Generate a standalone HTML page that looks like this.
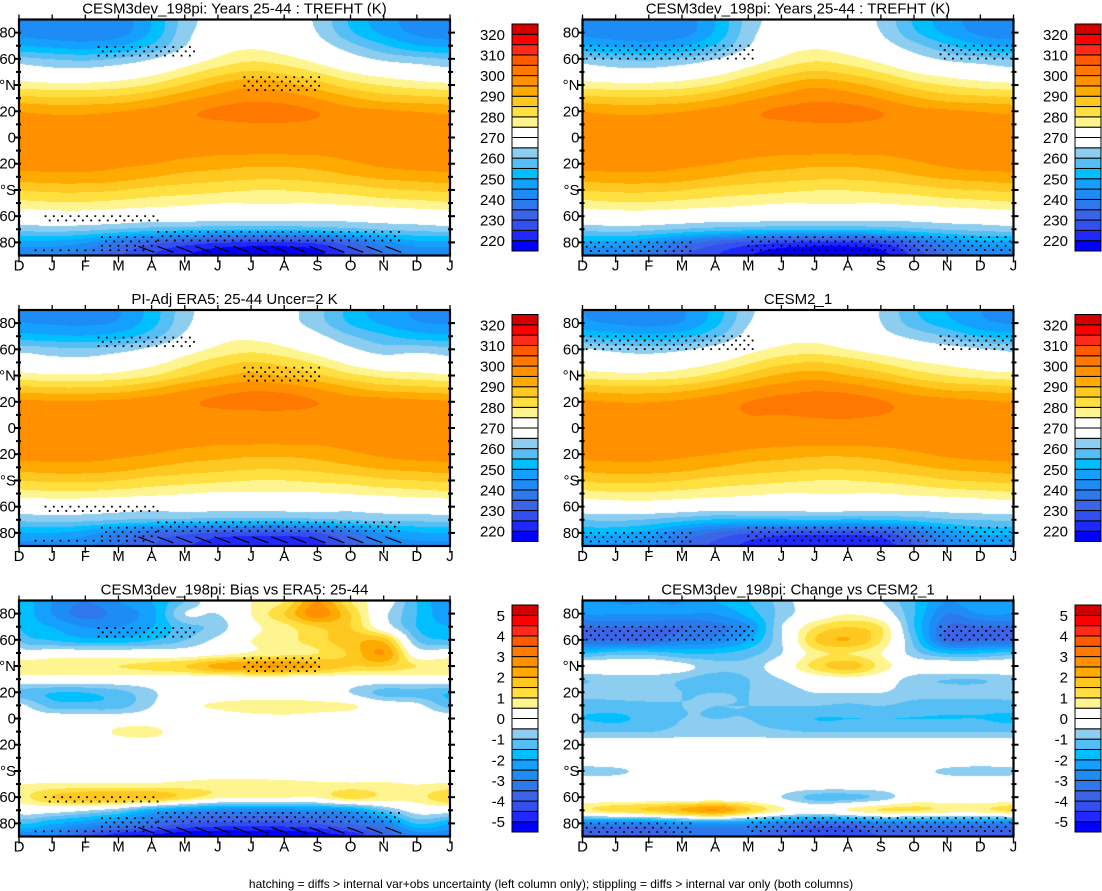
<!DOCTYPE html>
<html><head><meta charset="utf-8">
<style>
body{margin:0;background:#fff;width:1102px;height:891px;overflow:hidden;position:relative;font-family:"Liberation Sans",Arial,sans-serif}
canvas{position:absolute}
svg{position:absolute;left:0;top:0}
</style></head>
<body>
<canvas id="c0"></canvas>
<canvas id="c1"></canvas>
<canvas id="c2"></canvas>
<canvas id="c3"></canvas>
<canvas id="c4"></canvas>
<canvas id="c5"></canvas>
<svg id="ov" width="1102" height="891">
<text x="551" y="888" font-size="12" text-anchor="middle" font-family="Liberation Sans, sans-serif">hatching = diffs &gt; internal var+obs uncertainty (left column only); stippling = diffs &gt; internal var only (both columns)</text>
</svg>
<script>
// ---- data (rows: lat 90..-90 step 10; cols: D J F M A M J J A S O N) ----
const monthLabels = ['D','J','F','M','A','M','J','J','A','S','O','N','D','J'];
const latLabels = ['80','60','°N','20','0','20','°S','60','80'];
const latTickValues = [80,60,40,20,0,-20,-40,-60,-80];
const tempTickLabels = ['320','310','300','290','280','270','260','250','240','230','220'];
const diffTickLabels = ['5','4','3','2','1','0','-1','-2','-3','-4','-5'];
const modelT = [
[243,241,240,242,250,262,268,270,268,264,254,247],
[244,242,241,243,251,263,269,271,269,265,256,249],
[251,249,248,250,256,265,272,274,272,268,262,256],
[262,260,259,261,265,271,276,279,277,273,268,264],
[270,268,268,270,273,278,283,286,284,280,275,272],
[278,277,277,278,281,286,291,294,292,288,283,280],
[287,286,286,287,290,294,297,299,298,295,291,288],
[295,294,294,295,297,299,301,302,302,300,297,296],
[297,297,297,298,298,299,299,299.5,299.5,299,298,297],
[298,298,298,298,298,298,297,297,297,297,298,298],
[298,298,298,298,298,297,296,296,296,296,297,298],
[297,297,297,296,295,293,292,291,291,292,294,296],
[292,293,293,292,290,288,287,286,286,287,289,291],
[285,286,286,285,283,282,281,280,280,281,282,284],
[278,279,279,278,277,276,275,275,275,275,276,277],
[270,271,271,270,269,269,268,268,268,268,268,269],
[261,262,261,259,257,256,255,255,255,256,258,260],
[248,248,245,238,232,228,225,224,224,226,234,243],
[240,240,237,230,225,220,217,216,216,218,226,236]];
const biasERA5 = [
[-1.5,-2.5,-3,-2.5,-2,-1,0,0.5,1,2.5,1,0],
[-1.5,-2.5,-3.2,-2.8,-2.2,-0.5,-0.5,0.5,1.5,2.8,1.5,-0.3],
[-1.5,-2,-2.5,-2.5,-2,-1.2,-0.8,0.3,0.8,1.5,1.5,0],
[-1,-1.5,-1.8,-1.8,-1.5,-1,-0.3,0.5,0.8,1.3,1.8,1.8],
[0,0,0,0,0,0,0.3,0.6,0.8,1,1.6,2.5],
[1,1,1,1,1.2,1.5,2.2,2.5,2.5,2,1.5,1.5],
[0,0,0,0,0,0,0,0,0,0,0,0],
[-1.2,-1.5,-1.5,-1.2,-0.6,0,0,0,0,0,-0.5,-1.2],
[-0.3,-1.2,-1.3,-1.2,-0.5,0.3,0.6,0.8,0.8,0.7,0.6,0],
[0,0,0,0,0,0,0,0.2,0.3,0.2,0,0],
[0,0,0,0.6,0.7,0,0,0,0,0,0,0],
[0,0,0,0,0,0,0,0,0,0,0,0],
[0,0,0,0,0,0,0,0,0,0,0,0],
[0,0,0,0,0,0,0,0,0,0,0,0],
[0.5,0.6,0.6,0.6,0.6,0.7,0.8,0.8,0.7,0.6,0.6,0.6],
[0.8,1.5,1.9,1.9,1.8,1.2,0.6,0.6,0.5,0.5,1.2,0.8],
[-0.2,-0.2,-0.5,-1,-2,-2.5,-2.8,-2.8,-2.8,-2.6,-2.4,-1.2],
[-1.5,-2,-2.5,-3,-3.5,-4,-4.2,-4.2,-4.2,-4,-3.5,-3],
[-3,-3,-4,-5,-5.2,-5.5,-5.6,-5.6,-5.6,-5.4,-5,-4]];
const changeCESM2 = [
[-2,-2.5,-2.5,-2.5,-2,-1.5,-0.8,0,0,-0.5,-1.5,-2.5],
[-2.5,-2.5,-2.5,-2.5,-2.5,-1.8,-0.8,0,0.5,0,-1.5,-3],
[-3.5,-3.5,-3.5,-3.5,-3.2,-2.5,-0.5,1,1.5,1,-1.5,-3.5],
[-3.5,-3.5,-3.5,-3,-2.8,-2,-0.5,1.5,2,1,-1.2,-3.5],
[-1.5,-1.2,-1.2,-1.5,-1.5,-1.2,-0.5,0.8,1,0.5,-0.8,-1.5],
[0,0,0,-0.3,-0.8,-0.8,0,1.2,1.8,0.8,0,0],
[-1,-0.8,-0.8,-1,-1.3,-1,-0.5,0,0.2,0,-0.8,-1],
[-0.8,-0.8,-0.8,-1,-1,-1,-0.8,-0.5,-0.5,-0.5,-0.8,-0.8],
[-1.3,-1.2,-1.1,-1,-1,-1,-1,-1,-1.1,-1,-1.2,-1.3],
[-1.5,-1.6,-1.3,-1,-1,-1,-1.2,-1.5,-1.5,-1.5,-1.5,-1.5],
[-1,-1,-1,-0.8,-0.8,-0.8,-0.9,-1,-1,-1,-1,-1],
[0,0,0,0,0,0,0,0,0,0,0,0],
[0,0,0,0,0,0,0,0,0,0,0,0],
[-0.7,-0.6,-0.3,0,0,0,0,0,0,0,-0.3,-0.6],
[0,0,0,0,0,0,0,0,0,0,0,0],
[0,0,0,0,0,0,-0.5,-1.2,-1.2,-0.8,0,0],
[0.8,1.2,1.5,2,2.5,1.5,0.5,0,0.5,1,1,0.8],
[-3,-3,-3,-2.5,-2.5,-2.5,-3,-3.5,-3.5,-3,-3,-3],
[-4,-4,-4,-3.5,-3.5,-3.5,-4,-4.5,-4.5,-4,-4,-4]];
// stipple regions: [tStart, tEnd, latTop, latBottom]
const stippleLeft = [[2.4,5.3,69,62],[6.8,9.1,46,36],[0.8,4.2,-60,-66],[4.2,11.5,-72,-80],[2.5,4.2,-76,-84],[0.5,4,-86,-89]];
const stippleRight = [[0,5.2,70,58],[10.8,13,70,58],[0,3.3,-80,-89],[5,13,-76,-89]];
const hatchLeft = [[3.6,11.6,-83,-90]];
const colors = ['#0000ff','#1e28ff','#3250f0','#3c64e6','#2d78eb','#1e8cf5','#14a0ff','#00bfff','#55bff5','#8ccdf0','#ffffff','#ffffff','#fff590','#ffe040','#ffc820','#ffaa00','#ff9000','#ff7800','#ff5a00','#ff2a1a','#ff0000','#d40000'];

// ---- derived fields ----
const era5T = modelT.map((r,i)=>r.map((v,j)=>v-biasERA5[i][j]));
const cesm2T = modelT.map((r,i)=>r.map((v,j)=>v-changeCESM2[i][j]));

const PW=431, PH=236;
const colX=[19,582.5], rowY=[19.5,310,600.5], cbX=[512,1075], cbY=[24,314.5,605], cbH=227;
const panels=[
 {g:modelT,kind:'T',c:0,r:0,title:'CESM3dev_198pi: Years 25-44 : TREFHT (K)',st:stippleLeft,h:hatchLeft},
 {g:modelT,kind:'T',c:1,r:0,title:'CESM3dev_198pi: Years 25-44 : TREFHT (K)',st:stippleRight,h:[]},
 {g:era5T,kind:'T',c:0,r:1,title:'PI-Adj ERA5: 25-44 Uncer=2 K',st:stippleLeft,h:hatchLeft},
 {g:cesm2T,kind:'T',c:1,r:1,title:'CESM2_1',st:stippleRight,h:[]},
 {g:biasERA5,kind:'D',c:0,r:2,title:'CESM3dev_198pi: Bias vs ERA5: 25-44',st:stippleLeft,h:hatchLeft},
 {g:changeCESM2,kind:'D',c:1,r:2,title:'CESM3dev_198pi: Change vs CESM2_1',st:stippleRight,h:[]}];

function xOf(t,p){return colX[p.c]+t/13*PW;}
function yOf(lat,p){return rowY[p.r]+(90-lat)/180*PH;}
function cr(p0,p1,p2,p3,f){return p1+0.5*f*(p2-p0+f*(2*p0-5*p1+4*p2-p3+f*(3*(p1-p2)+p3-p0)));}
function val(g,ri,ci){ri=Math.max(0,Math.min(18,ri));ci=((ci%12)+12)%12;return g[ri][ci];}
function sample(g,t,lat){
 const r=(90-lat)/10, ri=Math.floor(r), fr=r-ri, ci=Math.floor(t), fc=t-ci;
 const rows=[];
 for(let k=-1;k<=2;k++){rows.push(cr(val(g,ri+k,ci-1),val(g,ri+k,ci),val(g,ri+k,ci+1),val(g,ri+k,ci+2),fc));}
 return cr(rows[0],rows[1],rows[2],rows[3],fr);
}
function idx(v,kind){if(kind==='D')v=270+10*v;let k=Math.floor((v-220)/5)+1;return Math.max(0,Math.min(21,k));}
const rgb=colors.map(h=>[parseInt(h.substr(1,2),16),parseInt(h.substr(3,2),16),parseInt(h.substr(5,2),16)]);
const NS='http://www.w3.org/2000/svg', ov=document.getElementById('ov');
function mk(tag,attrs,parent){const e=document.createElementNS(NS,tag);for(const k in attrs)e.setAttribute(k,attrs[k]);(parent||ov).appendChild(e);return e;}

panels.forEach((p,pi)=>{
 const cv=document.getElementById('c'+pi);
 const W=Math.round(PW),H=PH;
 cv.width=W;cv.height=H;cv.style.left=colX[p.c]+'px';cv.style.top=rowY[p.r]+'px';
 const ctx=cv.getContext('2d'),im=ctx.createImageData(W,H);
 for(let y=0;y<H;y++){const lat=90-(y+0.5)/H*180;
  for(let x=0;x<W;x++){const t=(x+0.5)/W*13;const c=rgb[idx(sample(p.g,t,lat),p.kind)];const o=(y*W+x)*4;
   im.data[o]=c[0];im.data[o+1]=c[1];im.data[o+2]=c[2];im.data[o+3]=255;}}
 ctx.putImageData(im,0,0);
 const g=mk('g',{});
 
 
 // stipples
 p.st.forEach(s=>{const y0=yOf(s[2],p),y1=yOf(s[3],p),x0=xOf(s[0],p),x1=xOf(s[1],p);let row=0;
  for(let y=y0;y<=y1;y+=4.3,row++){for(let x=x0+(row%2?4.15:0);x<=x1;x+=8.3){
   const d=mk('rect',{x:x-0.9,y:y-0.9,width:1.8,height:1.8,fill:'#000'},g);
   
   }}});
 p.h.forEach(s=>{const y0=yOf(s[2],p),y1=yOf(s[3],p),x0=xOf(s[0],p),x1=xOf(s[1],p);
  for(let y=y0;y<y1-3;y+=8){for(let x=x0;x<x1-8;x+=19){
   const l=mk('line',{x1:x,y1:y,x2:Math.min(x+16,x1),y2:y+6,stroke:'#000','stroke-width':1.2},g);
   
   }}});
 const X0=colX[p.c],Y0=rowY[p.r];
 const fr=mk('rect',{x:X0,y:Y0,width:PW,height:PH,fill:'none',stroke:'#000','stroke-width':2.2},g);
 
 
 const tt=mk('text',{x:X0+PW/2,y:Y0-6,'font-size':15,'text-anchor':'middle'},g);tt.textContent=p.title;
 
 
 for(let lat=-80;lat<=80;lat+=10){const y=yOf(lat,p),L=(lat%20===0)?7:5;
  mk('line',{x1:X0-L+2,y1:y,x2:X0+2,y2:y,stroke:'#000','stroke-width':2},g);
  mk('line',{x1:X0+PW-2,y1:y,x2:X0+PW+L-2,y2:y,stroke:'#000','stroke-width':2},g);}
 latTickValues.forEach((lat,i)=>{const t=mk('text',{x:X0-3,y:yOf(lat,p)+5,'font-size':15,'text-anchor':'end'},g);t.textContent=latLabels[i];
  
  });
 monthLabels.forEach((m,i)=>{const x=xOf(i,p);
  mk('line',{x1:x,y1:Y0+PH,x2:x,y2:Y0+PH+7,stroke:'#000','stroke-width':1.3},g);
  mk('line',{x1:x,y1:Y0,x2:x,y2:Y0-5,stroke:'#000','stroke-width':1.3},g);
  const t=mk('text',{x:x,y:Y0+PH+15,'font-size':15,'text-anchor':'middle'},g);t.textContent=m;
  
  });
 // colorbar
 const cb=mk('g',{},g);
 
 
 const bx=cbX[p.c],by=cbY[p.r],bh=cbH/22;
 for(let k=0;k<22;k++){mk('rect',{x:bx,y:by+(21-k)*bh,width:26,height:bh,fill:colors[k],stroke:'#000','stroke-width':1},cb);}
 const labs=p.kind==='T'?tempTickLabels:diffTickLabels;
 labs.forEach((s,i)=>{const t=mk('text',{x:bx-7,y:by+(1+2*i)*bh+5.5,'font-size':15,'text-anchor':'end'},cb);t.textContent=s;
  
  });
});
</script>
</body></html>
